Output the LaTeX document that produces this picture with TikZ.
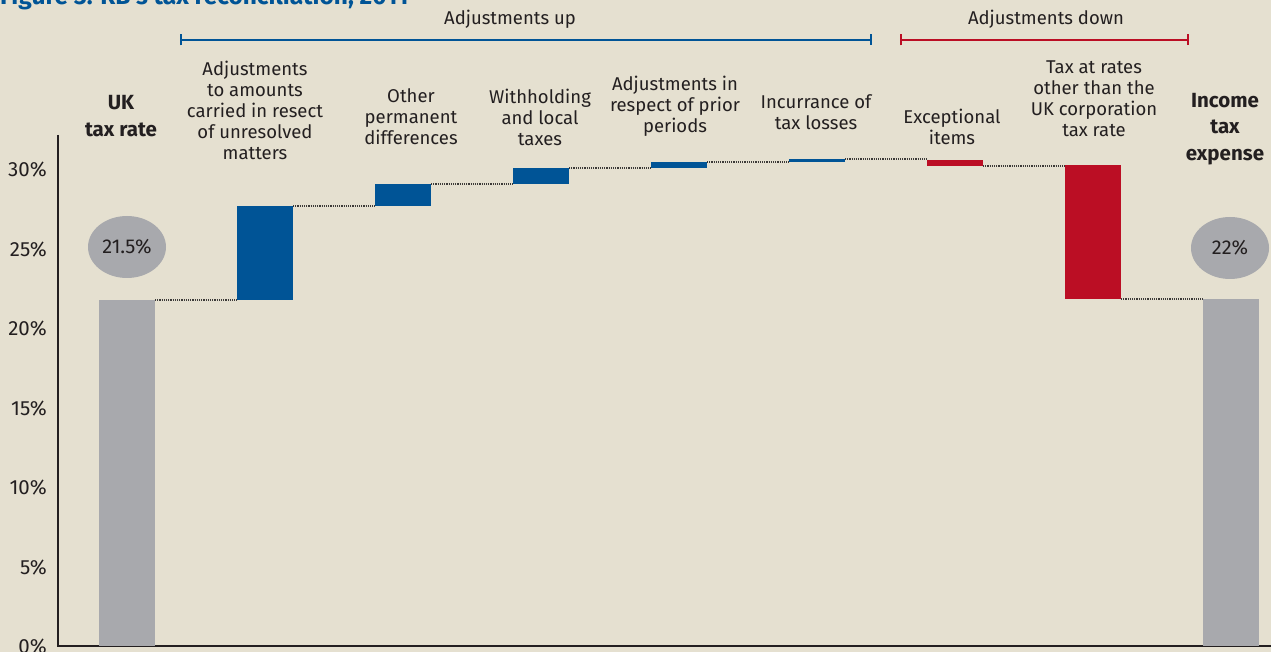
\documentclass[tikz,border=0pt]{standalone}
\usepackage{fontspec}
\setmainfont{Fira Sans}
\usetikzlibrary{arrows.meta,positioning,shapes.geometric}
\definecolor{PaperBeige}{RGB}{229,224,208}
\definecolor{UpBlue}{RGB}{0,84,150}
\definecolor{DownRed}{RGB}{187,14,36}
\definecolor{BarGray}{RGB}{168,169,173}
\definecolor{InkGray}{RGB}{35,31,32}
\definecolor{LinkGray}{RGB}{60,58,56}

\begin{document}
\begin{tikzpicture}[
      x=1pt,y=-1pt,
      every node/.style={font=\fontsize{18.5}{21}\selectfont,text=InkGray},
      barBase/.style={fill=BarGray,inner sep=0pt,outer sep=0pt,
                      minimum width=56pt,anchor=north west},
      barUp/.style={barBase,fill=UpBlue},
      barDown/.style={barBase,fill=DownRed},
      stepLink/.style={draw=LinkGray,line width=1.3pt,dash pattern=on 1.1pt off 1.1pt},
      catLabel/.style={align=center,inner sep=0pt},
      totLabel/.style={align=center,inner sep=0pt,font=\bfseries\fontsize{20.5}{26.5}\selectfont},
      tickLabel/.style={anchor=east,inner sep=0pt,font=\fontsize{20.5}{21}\selectfont},
      bubble/.style={ellipse,fill=BarGray,minimum width=78pt,minimum height=62pt,
                     inner sep=0pt,font=\fontsize{20}{21}\selectfont},
      bracketUp/.style={{Bar[width=11pt]}-{Bar[width=11pt]},line width=2.2pt,UpBlue},
      bracketDown/.style={{Bar[width=11pt]}-{Bar[width=11pt]},line width=2.2pt,DownRed}
    ]

    % Background and frame
    \fill[PaperBeige] (0,0) rectangle (1271,652);
    \useasboundingbox (0,0) rectangle (1271,652);

    % Title (cut off at the top)
    \node(title)[anchor=base west,inner sep=0pt,text=UpBlue,
                 font=\bfseries\fontsize{24.5}{26}\selectfont] at (0,5)
      {Figure 3: RB's tax reconciliation, 2011};

    % Axes
    \draw[InkGray,line width=1.2pt] (58,135) -- (58,646) -- (1271,646);
    \foreach \v in {0,5,...,30}
      \node(tick\v)[tickLabel] at (47,647-15.9*\v) {\v\%};

    % Group brackets
    \coordinate (upL) at (180,40);
    \coordinate (upR) at (872,40);
    \coordinate (dnL) at (900,40);
    \coordinate (dnR) at (1189,40);
    \draw[bracketUp] (upL) -- (upR);
    \draw[bracketDown] (dnL) -- (dnR);
    \node(upTxt)[inner sep=0pt] at (510,19) {Adjustments up};
    \node(dnTxt)[inner sep=0pt] at (1046,19) {Adjustments down};

    % Bars: start, adjustments, end
    \node(b0)[barBase,minimum height=346pt] at (99,300) {};
    \node(b1)[barUp,minimum height=94pt] at (237,206) {};
    \node(b2)[barUp,minimum height=22pt] at (375,184) {};
    \node(b3)[barUp,minimum height=16pt] at (513,168) {};
    \node(b4)[barUp,minimum height=6pt] at (651,162) {};
    \node(b5)[barUp,minimum height=3pt] at (789,159) {};
    \node(b6)[barDown,minimum height=6pt] at (927,160) {};
    \node(b7)[barDown,minimum height=134pt] at (1065,165) {};
    \node(b8)[barBase,minimum height=347pt] at (1203,299) {};

    % Dotted step links
    \draw[stepLink] (b0.north east) -- (b0.north east -| b1.west);
    \draw[stepLink] (b1.north east) -- (b1.north east -| b2.west);
    \draw[stepLink] (b2.north east) -- (b2.north east -| b3.west);
    \draw[stepLink] (b3.north east) -- (b3.north east -| b4.west);
    \draw[stepLink] (b4.north east) -- (b4.north east -| b5.west);
    \draw[stepLink] (b5.north east) -- (b5.north east -| b6.west);
    \draw[stepLink] (b6.south east) -- (b6.south east -| b7.west);
    \draw[stepLink] (b7.south east) -- (b7.south east -| b8.west);

    % Value bubbles
    \node(pct0)[bubble] at (127,247) {21.5\%};
    \node(pct8)[bubble] at (1230,248) {22\%};

    % Category labels
    \node(lab0)[totLabel] at (121,116) {UK\\tax rate};
    \node(lab1)[catLabel] at (255,110) {Adjustments\\to amounts\\carried in resect\\of unresolved\\matters};
    \node(lab2)[catLabel] at (411,117) {Other\\permanent\\differences};
    \node(lab3)[catLabel] at (540,117) {Withholding\\and local\\taxes};
    \node(lab4)[catLabel] at (675,106) {Adjustments in\\respect of prior\\periods};
    \node(lab5)[catLabel] at (816,112) {Incurrance of\\tax losses};
    \node(lab6)[catLabel] at (952,127) {Exceptional\\items};
    \node(lab7)[catLabel] at (1094,99) {Tax at rates\\other than the\\UK corporation\\tax rate};
    \node(lab8)[totLabel] at (1225,129) {Income\\tax\\expense};
  \end{tikzpicture}
\end{document}
